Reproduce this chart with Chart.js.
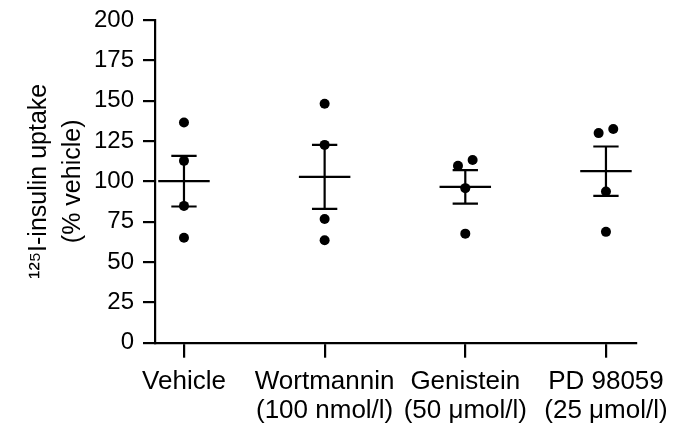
<!DOCTYPE html>
<html>
<head>
<meta charset="utf-8">
<script src="https://cdn.jsdelivr.net/npm/chart.js@4/dist/chart.umd.min.js"></script>
<style>
  html, body { margin: 0; padding: 0; background: #fff; }
  #wrap { width: 680px; height: 431px; position: relative; }
</style>
</head>
<body>
<div id="wrap"><canvas id="c"></canvas></div>
<script>
// ---- data ----
const categories = [
  ["Vehicle"],
  ["Wortmannin", "(100 nmol/l)"],
  ["Genistein", "(50 \u03bcmol/l)"],
  ["PD 98059", "(25 \u03bcmol/l)"]
];
const vehicleValues    = [136.5, 112.7, 84.8, 65.1];
const wortmanninValues = [148.1, 122.6, 76.7, 63.5];
const genisteinValues  = [109.6, 113.2, 95.8, 67.6];
const pd98059Values    = [129.9, 132.4, 93.7, 68.7];
const meanValues = [100.1, 102.8, 96.6, 106.3];
const semValues  = [15.7, 19.8, 10.4, 15.3];
const yTicks = [0, 25, 50, 75, 100, 125, 150, 175, 200];

const groups = [vehicleValues, wortmanninValues, genisteinValues, pd98059Values];

// ---- styling constants ----
const FONT = "'Liberation Sans', Arial, Helvetica, sans-serif";
const meanHalf = 0.183;   // half-width of mean line (x units)
const capHalf = 0.09;     // half-width of SEM caps
const jitter = 0.052;     // spread for overlapping dots
const overlap = 6.5;      // value distance treated as overlapping

// dots with simple beeswarm offset for overlapping points
const dots = [];
groups.forEach((vals, i) => {
  vals.forEach((v, j) => {
    let dx = 0;
    vals.forEach((w, k) => {
      if (k !== j && Math.abs(w - v) < overlap) dx = v < w ? -jitter : jitter;
    });
    dots.push({ x: i + dx, y: v });
  });
});

const lineStyle = {
  showLine: true, pointRadius: 0, pointHoverRadius: 0,
  borderColor: '#000', borderWidth: 2.2, backgroundColor: '#000', fill: false
};
const datasets = [{
  data: dots, pointRadius: 5, pointHoverRadius: 5,
  backgroundColor: '#000', borderColor: '#000', borderWidth: 0, showLine: false
}];
meanValues.forEach((m, i) => {
  const s = semValues[i];
  datasets.push(Object.assign({ data: [{x: i - meanHalf, y: m}, {x: i + meanHalf, y: m}] }, lineStyle));
  datasets.push(Object.assign({ data: [{x: i, y: m - s}, {x: i, y: m + s}] }, lineStyle));
  datasets.push(Object.assign({ data: [{x: i - capHalf, y: m + s}, {x: i + capHalf, y: m + s}] }, lineStyle));
  datasets.push(Object.assign({ data: [{x: i - capHalf, y: m - s}, {x: i + capHalf, y: m - s}] }, lineStyle));
});

new Chart(document.getElementById('c'), {
  type: 'scatter',
  data: { datasets },
  options: {
    responsive: true,
    maintainAspectRatio: false,
    animation: false,
    events: [],
    layout: { padding: { left: 0, right: 38, top: 20, bottom: 0 } },
    plugins: { legend: { display: false }, tooltip: { enabled: false } },
    scales: {
      x: {
        type: 'linear',
        min: -0.206, max: 3.214,
        afterBuildTicks: (scale) => { scale.ticks = categories.map((c, i) => ({ value: i })); },
        afterFit: (scale) => { scale.height = 88.3; },
        ticks: {
          autoSkip: false, maxRotation: 0, minRotation: 0,
          color: '#000', padding: 10,
          font: { family: FONT, size: 26, lineHeight: 1.1 },
          callback: (v) => categories[v] || ''
        },
        grid: { drawOnChartArea: false, drawTicks: true, tickLength: 15, color: '#000', lineWidth: 2.2 },
        border: { display: true, color: '#000', width: 2.2 }
      },
      y: {
        min: 0, max: 200,
        afterBuildTicks: (scale) => { scale.ticks = yTicks.map(v => ({ value: v })); },
        afterFit: (scale) => { scale.width = 155; scale.paddingTop = 0; scale.paddingBottom = 0; },
        ticks: {
          color: '#000', padding: 9,
          font: { family: FONT, size: 24 }
        },
        grid: { drawOnChartArea: false, drawTicks: true, tickLength: 12, color: '#000', lineWidth: 2.2 },
        border: { display: true, color: '#000', width: 2.2 },
        title: {
          display: true,
          text: ['\u00b9\u00b2\u2075I-insulin uptake', '(% vehicle)'],
          color: '#000',
          font: { family: FONT, size: 25, lineHeight: 1.36 },
          padding: { top: 22, bottom: 0 }
        }
      }
    }
  }
});
</script>
</body>
</html>
